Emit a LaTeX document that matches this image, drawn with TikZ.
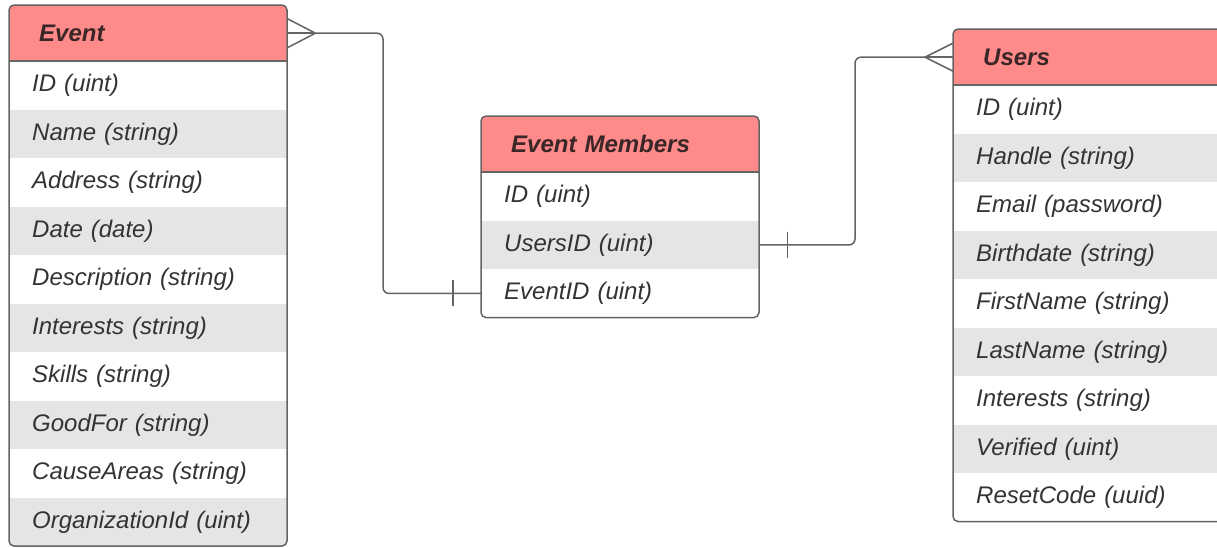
\documentclass[tikz,border=0pt]{standalone}
\usepackage{fontspec}
\setmainfont{Liberation Sans}
\usetikzlibrary{calc}
\definecolor{hdrfill}{RGB}{255,138,138}
\definecolor{rowgray}{RGB}{229,229,229}
\definecolor{edgecol}{RGB}{100,100,100}
\definecolor{hdrtext}{RGB}{58,38,38}
\definecolor{rowtext}{RGB}{51,51,51}
\tikzset{
  tblborder/.style={draw=edgecol, line width=1.5pt, rounded corners=5pt},
  hdrcell/.style={anchor=north west, minimum height=56pt, inner xsep=30pt, inner ysep=0pt, align=left,
    font=\fontsize{24}{28}\selectfont\bfseries\itshape, text=hdrtext},
  rowcell/.style={anchor=north west, minimum height=48.5pt, inner xsep=23pt, inner ysep=0pt, align=left,
    font=\fontsize{24}{28}\selectfont\itshape, text=rowtext},
  conn/.style={draw=edgecol, line width=1.5pt},
}
% #1 name, #2 left, #3 top, #4 width, #5 number of rows, #6 title, #7 rows
\newcommand{\ertable}[7]{%
  \pgfmathsetmacro{\tR}{#2+#4}%
  \pgfmathsetmacro{\tH}{#3+56}%
  \pgfmathsetmacro{\tB}{#3+56+48.5*#5}%
  \pgfmathsetmacro{\rtw}{#4-46}%
  \pgfmathsetmacro{\htw}{#4-60}%
  \begin{scope}
    \clip[rounded corners=5pt] (#2,#3) rectangle (\tR,\tB);
    \fill[white] (#2,#3) rectangle (\tR,\tB);
    \fill[hdrfill] (#2,#3) rectangle (\tR,\tH);
    \foreach \r [count=\i] in {#7} {
      \pgfmathsetmacro{\ry}{\tH+48.5*(\i-1)}
      \ifodd\i\else\fill[rowgray] (#2,\ry) rectangle (\tR,\ry+48.5);\fi
      \node[rowcell, text width=\rtw pt] (#1-r\i) at (#2,\ry) {\r};
    }
  \end{scope}
  \node[hdrcell, text width=\htw pt] (#1-hdr) at (#2,#3) {#6};
  \draw[edgecol, line width=1.5pt] (#2,\tH) -- (\tR,\tH);
  \draw[tblborder] (#2,#3) rectangle (\tR,\tB);
}
\begin{document}
\begin{tikzpicture}[x=1pt,y=-1pt]
\useasboundingbox (0,0) rectangle (1217,547);
\clip (0,0) rectangle (1217,547);
\fill[white] (0,0) rectangle (1217,547);

\ertable{event}{9}{5}{278}{10}{Event}{{ID (uint)},{Name (string)},{Address (string)},{Date (date)},{Description (string)},{Interests (string)},{Skills (string)},{GoodFor (string)},{CauseAreas (string)},{OrganizationId (uint)}}

\ertable{em}{481}{116}{278}{3}{Event Members}{{ID (uint)},{UsersID (uint)},{EventID (uint)}}

\ertable{users}{953}{29}{300}{9}{Users}{{ID (uint)},{Handle (string)},{Email (password)},{Birthdate (string)},{FirstName (string)},{LastName (string)},{Interests (string)},{Verified (uint)},{ResetCode (uuid)}}

% Event -> Event Members
\coordinate (cf1) at ($(event-hdr.east)+(28,0)$);
\draw[conn] ($(event-hdr.east)+(0,-14.5)$) -- (cf1) -- ($(event-hdr.east)+(0,14.5)$);
\draw[conn] (event-hdr.east) -- (cf1);
\coordinate (j1) at (383,0);
\draw[conn, rounded corners=6pt] (cf1) -| (j1 |- em-r3.west) -- (em-r3.west);
\draw[conn] ($(em-r3.west)+(-28,-13)$) -- ($(em-r3.west)+(-28,13)$);

% Event Members -> Users
\coordinate (cf2) at ($(users-hdr.west)+(-28,0)$);
\draw[conn] ($(users-hdr.west)+(0,-14)$) -- (cf2) -- ($(users-hdr.west)+(0,14)$);
\draw[conn] (users-hdr.west) -- (cf2);
\coordinate (j2) at (855,0);
\draw[conn, rounded corners=6pt] (em-r2.east) -| (j2 |- cf2) -- (cf2);
\draw[conn] ($(em-r2.east)+(28,-13)$) -- ($(em-r2.east)+(28,13)$);
\end{tikzpicture}
\end{document}
